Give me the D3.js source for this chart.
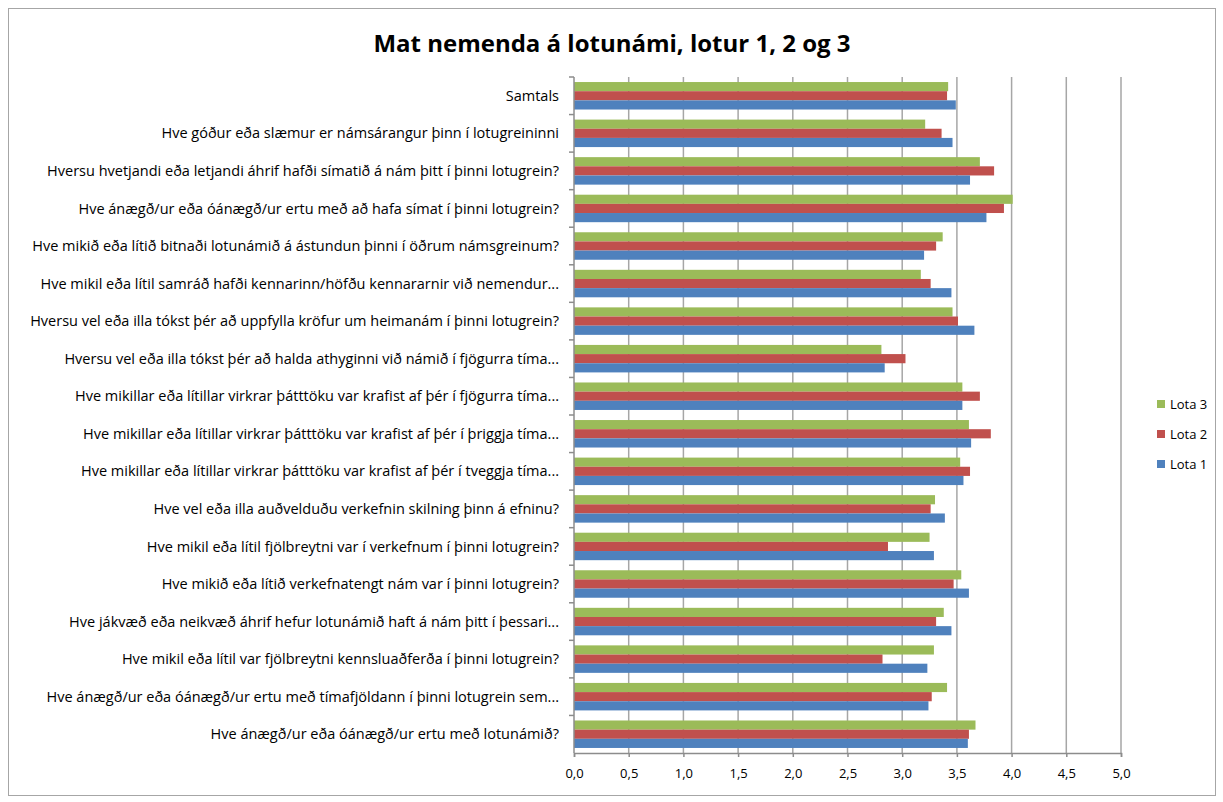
<!DOCTYPE html>
<html>
<head>
<meta charset="utf-8">
<script src="https://cdnjs.cloudflare.com/ajax/libs/d3/7.8.5/d3.min.js"></script>
<style>
  body { margin: 0; background: #fff; }
  text { font-family: "Open Sans", Lato, sans-serif; fill: #000; }
</style>
</head>
<body>
<div id="chart"></div>
<script>
// Questions, top to bottom as drawn
var categories = [
    "Samtals",
    "Hve góður eða slæmur er námsárangur  þinn í lotugreininni",
    "Hversu hvetjandi eða letjandi áhrif hafði símatið á nám þitt í þinni lotugrein?",
    "Hve ánægð/ur eða óánægð/ur ertu með að hafa símat í þinni lotugrein?",
    "Hve mikið eða lítið bitnaði lotunámið á ástundun þinni í öðrum námsgreinum?",
    "Hve mikil eða lítil samráð hafði kennarinn/höfðu kennararnir við nemendur...",
    "Hversu vel eða illa tókst þér að uppfylla kröfur um heimanám í þinni lotugrein?",
    "Hversu vel eða illa tókst þér að halda athyginni við námið í fjögurra tíma...",
    "Hve mikillar eða lítillar virkrar þátttöku var krafist af þér í fjögurra tíma...",
    "Hve mikillar eða lítillar virkrar þátttöku var krafist af þér í þriggja tíma...",
    "Hve mikillar eða lítillar virkrar þátttöku var krafist af þér í tveggja tíma...",
    "Hve vel eða illa auðvelduðu verkefnin skilning þinn á efninu?",
    "Hve mikil eða lítil fjölbreytni var í verkefnum í þinni lotugrein?",
    "Hve mikið eða lítið verkefnatengt nám var í þinni lotugrein?",
    "Hve jákvæð eða neikvæð áhrif hefur lotunámið haft á nám þitt í þessari...",
    "Hve mikil eða lítil var fjölbreytni kennsluaðferða í þinni lotugrein?",
    "Hve ánægð/ur eða óánægð/ur ertu með tímafjöldann í þinni lotugrein sem...",
    "Hve ánægð/ur eða óánægð/ur ertu með lotunámið?"
];

var lota3 = [3.42, 3.21, 3.71, 4.01, 3.37, 3.17, 3.46, 2.81, 3.55, 3.61, 3.53, 3.30, 3.25, 3.54, 3.38, 3.29, 3.41, 3.67];
var lota2 = [3.41, 3.36, 3.84, 3.93, 3.31, 3.26, 3.51, 3.03, 3.71, 3.81, 3.62, 3.26, 2.87, 3.47, 3.31, 2.82, 3.27, 3.61];
var lota1 = [3.49, 3.46, 3.62, 3.77, 3.20, 3.45, 3.66, 2.84, 3.55, 3.63, 3.56, 3.39, 3.29, 3.61, 3.45, 3.23, 3.24, 3.60];

var seriesNames = ["Lota 3", "Lota 2", "Lota 1"];
var seriesColors = ["#9BBB59", "#C0504D", "#4F81BD"];
var xTicks = [0, 0.5, 1, 1.5, 2, 2.5, 3, 3.5, 4, 4.5, 5];

var svgWidth = 1223;
var svgHeight = 802;

var margin = { top: 77, right: 102, left: 574, bottom: 49 };
var chartWidth = svgWidth - margin.left - margin.right;
var chartHeight = svgHeight - margin.top - margin.bottom;

var svg = d3.select("#chart")
    .append("svg")
    .attr("width", svgWidth)
    .attr("height", svgHeight);

// outer frame
svg.append("rect")
    .attr("x", 8.5)
    .attr("y", 8.5)
    .attr("width", 1207)
    .attr("height", 787)
    .attr("fill", "#fff")
    .attr("stroke", "#a6a6a6")
    .attr("stroke-width", 1);

svg.append("text")
    .attr("x", 612)
    .attr("y", 52)
    .attr("text-anchor", "middle")
    .attr("font-size", "24px")
    .attr("font-weight", "bold")
    .text("Mat nemenda á lotunámi, lotur 1, 2 og 3");

var chartGroup = svg.append("g")
    .attr("transform", `translate(${margin.left},${margin.top})`);

var xScale = d3.scaleLinear()
    .domain([0, 5])
    .range([0, chartWidth]);

var yScale = d3.scaleBand()
    .domain(categories)
    .range([0, chartHeight]);

var innerScale = d3.scaleBand()
    .domain(seriesNames)
    .range([0, yScale.bandwidth()])
    .paddingInner(0)
    .paddingOuter(0.55);

// gridlines
chartGroup.selectAll(".grid")
    .data(xTicks.slice(1))
    .enter()
    .append("line")
    .attr("x1", d => xScale(d))
    .attr("x2", d => xScale(d))
    .attr("y1", 0)
    .attr("y2", chartHeight)
    .attr("stroke", "#a6a6a6")
    .attr("stroke-width", 1.5);

// bars
var rows = categories.map((c, i) => ({ cat: c, vals: [lota3[i], lota2[i], lota1[i]] }));

var groups = chartGroup.selectAll(".row")
    .data(rows)
    .enter()
    .append("g")
    .attr("transform", d => `translate(0,${yScale(d.cat)})`);

groups.selectAll("rect")
    .data(d => d.vals.map((v, j) => ({ name: seriesNames[j], value: v, color: seriesColors[j] })))
    .enter()
    .append("rect")
    .attr("x", 0)
    .attr("y", d => innerScale(d.name))
    .attr("width", d => xScale(d.value))
    .attr("height", innerScale.bandwidth())
    .attr("fill", d => d.color);

// x axis
var bottomAxis = d3.axisBottom(xScale)
    .tickValues(xTicks)
    .tickSize(4)
    .tickPadding(12)
    .tickFormat(d => d3.format(".1f")(d).replace(".", ","));

var xAxis = chartGroup.append("g")
    .attr("transform", `translate(0, ${chartHeight})`)
    .call(bottomAxis);

xAxis.select(".domain").attr("stroke", "#8c8c8c").attr("stroke-width", 1.5);
xAxis.selectAll(".tick line").attr("stroke", "#8c8c8c").attr("stroke-width", 1.5);
xAxis.selectAll("text").attr("font-size", "13px").style("font-family", "'Open Sans', sans-serif").attr("fill", "#000");

// y axis: line and boundary ticks
chartGroup.append("line")
    .attr("x1", 0).attr("x2", 0)
    .attr("y1", 0).attr("y2", chartHeight)
    .attr("stroke", "#8c8c8c")
    .attr("stroke-width", 1.5);

chartGroup.selectAll(".ytick")
    .data(categories)
    .enter()
    .append("line")
    .attr("x1", -5).attr("x2", 0)
    .attr("y1", d => yScale(d))
    .attr("y2", d => yScale(d))
    .attr("stroke", "#8c8c8c")
    .attr("stroke-width", 1.5);

chartGroup.selectAll(".ylabel")
    .data(categories)
    .enter()
    .append("text")
    .attr("x", -15)
    .attr("y", d => yScale(d) + yScale.bandwidth() / 2)
    .attr("dy", "0.35em")
    .attr("text-anchor", "end")
    .attr("font-size", "14.5px")
    .text(d => d);

// legend
var legend = svg.append("g")
    .attr("transform", "translate(1157, 404)");

legend.selectAll("rect")
    .data(seriesNames)
    .enter()
    .append("rect")
    .attr("x", 0)
    .attr("y", (d, i) => i * 30 - 4)
    .attr("width", 8)
    .attr("height", 8)
    .attr("fill", (d, i) => seriesColors[i]);

legend.selectAll("text")
    .data(seriesNames)
    .enter()
    .append("text")
    .attr("x", 13)
    .attr("y", (d, i) => i * 30)
    .attr("dy", "0.35em")
    .attr("font-size", "13px")
    .text(d => d);
</script>
</body>
</html>
